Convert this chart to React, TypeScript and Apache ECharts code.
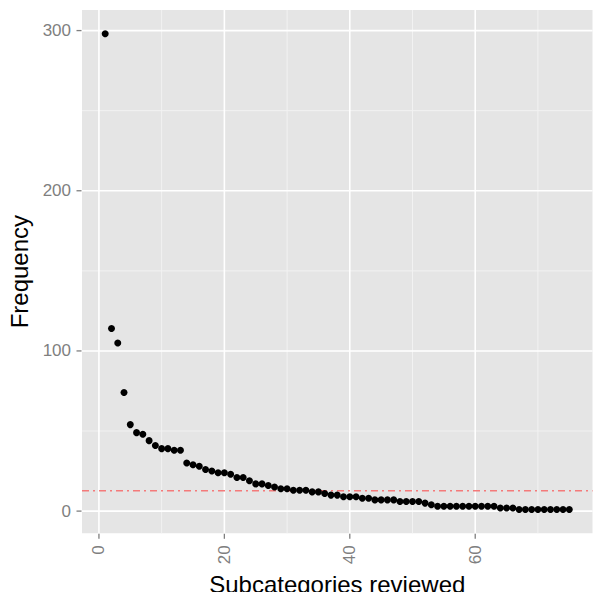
import React, { useEffect, useRef } from "react";
import * as echarts from "echarts";

// Frequency of each reviewed subcategory (x = 1..75, rank order)
const frequencies: number[] = [
  298, 114, 105, 74, 54, 49, 48, 44, 41, 39,
  39, 38, 38, 30, 29, 28, 26, 25, 24, 24,
  23, 21, 21, 19, 17, 17, 16, 15, 14, 14,
  13, 13, 13, 12, 12, 11, 10, 10, 9, 9,
  9, 8, 8, 7, 7, 7, 7, 6, 6, 6,
  6, 5, 4, 3, 3, 3, 3, 3, 3, 3,
  3, 3, 3, 2, 2, 2, 1, 1, 1, 1,
  1, 1, 1, 1, 1,
];
const thresholdValue = 12.7;

const xMajorTicks = [0, 20, 40, 60];
const xMinorTicks = [10, 30, 50, 70];
const yMajorTicks = [0, 100, 200, 300];
const yMinorTicks = [50, 150, 250];

const xName = "Subcategories reviewed";
const yName = "Frequency";

export default function App() {
  const ref = useRef<HTMLDivElement>(null);

  useEffect(() => {
    if (!ref.current) return;
    const chart = echarts.init(ref.current, null, { renderer: "svg" });
    const font = "Liberation Sans, Arial, Helvetica, sans-serif";
    const points = frequencies.map((v, i) => [i + 1, v]);

    const xMin = 1 - 0.05 * (frequencies.length - 1);
    const xMax = frequencies.length + 0.05 * (frequencies.length - 1);
    const yLo = Math.min(...frequencies);
    const yHi = Math.max(...frequencies);
    const yMin = yLo - 0.05 * (yHi - yLo);
    const yMax = yHi + 0.05 * (yHi - yLo);

    // grid lines drawn through the axes' scales
    const gridLines = (xs: number[], ys: number[], color: string, width: number, z: number) => ({
      type: "custom",
      silent: true,
      clip: false,
      z,
      data: [
        ...xs.map((v) => [v, yMin, v, yMax]),
        ...ys.map((v) => [xMin, v, xMax, v]),
      ],
      encode: { x: [0, 2], y: [1, 3] },
      renderItem: (_p: any, api: any) => {
        const a = api.coord([api.value(0), api.value(1)]);
        const b = api.coord([api.value(2), api.value(3)]);
        return {
          type: "line",
          shape: { x1: a[0], y1: a[1], x2: b[0], y2: b[1] },
          style: { stroke: color, lineWidth: width },
        };
      },
    });

    // outward tick marks as rect symbols anchored on the axes' scales
    const tickSeries = (data: number[][], size: number[], offset: number[]) => ({
      type: "scatter",
      data,
      symbol: "rect",
      symbolSize: size,
      symbolOffset: offset,
      itemStyle: { color: "#7F7F7F", opacity: 1 },
      silent: true,
      clip: false,
      z: 6,
    });

    chart.setOption({
      animation: false,
      backgroundColor: "#ffffff",
      grid: {
        left: 82,
        top: 10,
        width: 510.5,
        height: 523.3,
        show: true,
        backgroundColor: "#E5E5E5",
        borderWidth: 0,
        containLabel: false,
        outerBoundsMode: "none",
      },
      xAxis: {
        type: "value",
        min: xMin,
        max: xMax,
        name: xName,
        nameLocation: "middle",
        nameGap: 35,
        nameTextStyle: { color: "#000000", fontSize: 24, fontFamily: font },
        axisLine: { show: false },
        axisTick: { show: false },
        axisLabel: {
          show: true,
          rotate: 90,
          margin: 12,
          color: "#7F7F7F",
          fontSize: 17,
          fontFamily: font,
          customValues: xMajorTicks,
        },
        splitLine: { show: false },
      },
      yAxis: {
        type: "value",
        min: yMin,
        max: yMax,
        name: yName,
        nameLocation: "middle",
        nameRotate: 90,
        nameGap: 51,
        nameTextStyle: { color: "#000000", fontSize: 24, fontFamily: font },
        axisLine: { show: false },
        axisTick: { show: false },
        axisLabel: {
          show: true,
          margin: 11,
          color: "#7F7F7F",
          fontSize: 17,
          fontFamily: font,
          customValues: yMajorTicks,
        },
        splitLine: { show: false },
      },
      series: [
        gridLines(xMinorTicks, yMinorTicks, "#F2F2F2", 1, 1),
        gridLines(xMajorTicks, yMajorTicks, "#FFFFFF", 1.6, 2),
        {
          type: "line",
          data: [
            [xMin, thresholdValue],
            [xMax, thresholdValue],
          ],
          symbol: "none",
          silent: true,
          z: 3,
          color: "#F47A7A",
          lineStyle: { color: "#F47A7A", width: 1.5, type: [7, 4, 2, 4], opacity: 1 },
        },
        {
          type: "scatter",
          data: points,
          symbol: "circle",
          symbolSize: 7,
          itemStyle: { color: "#000000", opacity: 1 },
          silent: true,
          z: 4,
        },
        tickSeries(xMajorTicks.map((v) => [v, yMin]), [1.3, 5], [0, 3]),
        tickSeries(yMajorTicks.map((v) => [xMin, v]), [5, 1.3], [-3, 0]),
      ],
    });

    return () => chart.dispose();
  }, []);

  return (
    <div
      ref={ref}
      style={{ position: "fixed", left: 0, top: 0, width: 593, height: 592, background: "#fff" }}
    />
  );
}
